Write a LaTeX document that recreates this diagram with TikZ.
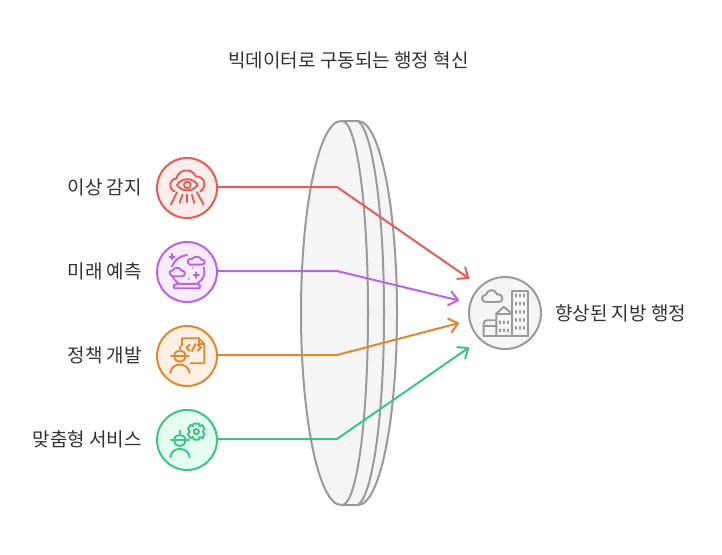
\documentclass[tikz,border=0pt]{standalone}
\usepackage{fontspec}
\setmainfont{Noto Sans CJK KR}
\usetikzlibrary{arrows.meta}
\definecolor{cred}{HTML}{E85B56}
\definecolor{cpur}{HTML}{BC62E8}
\definecolor{cora}{HTML}{E2872F}
\definecolor{cgrn}{HTML}{3CC583}
\definecolor{cgry}{HTML}{9A9A9A}
\definecolor{txt}{HTML}{333333}
\definecolor{fred}{HTML}{FFEDEB}
\definecolor{fpur}{HTML}{F7EDFF}
\definecolor{fora}{HTML}{FFF0E3}
\definecolor{fgrn}{HTML}{E5FCF1}
\definecolor{fgry}{HTML}{F5F5F5}
\tikzset{
  lbl/.style={font=\fontsize{19}{22}\selectfont,text=txt,inner sep=0pt},
  hub/.style={circle,draw=#1,line width=2pt,minimum size=60pt,inner sep=0pt},
  conn/.style={draw=#1,line width=2pt,-{Straight Barb[round,length=8.5pt,width=14pt,line width=2pt]}},
  lensline/.style={draw=cgry,line width=2pt,line join=round},
  ic/.style={line width=1.9pt,line cap=round,line join=round},
  zoomA/.style={x=0.3333pt,y=-0.3333pt}
}
\begin{document}
\begin{tikzpicture}[x=1pt,y=-1pt]
\useasboundingbox (0,0) rectangle (722,554);
\fill[white] (0,0) rectangle (722,554);
\node[lbl] (title) at (348.5,60) {빅데이터로 구동되는 행정 혁신};
% lens
\fill[lensline,fill=fgry]
  (358,121) .. controls (380,121) and (397,207) .. (397,313)
  .. controls (397,419) and (380,505) .. (358,505) -- (341,505)
  .. controls (319,505) and (301,419) .. (301,313)
  .. controls (301,207) and (319,121) .. (341,121) -- cycle;
\draw[lensline] (342,121) .. controls (357,121) and (368,207) .. (368,313) .. controls (368,419) and (357,505) .. (342,505);
\draw[lensline] (358,121) .. controls (372,130) and (384,207) .. (384,313) .. controls (384,419) and (372,496) .. (358,505);
% hubs
\node[hub=cred,fill=fred] (n1) at (187,188) {};
\node[hub=cpur,fill=fpur] (n2) at (187,272) {};
\node[hub=cora,fill=fora] (n3) at (187,356) {};
\node[hub=cgrn,fill=fgrn] (n4) at (187,440) {};
\node[circle,draw=cgry,line width=2pt,minimum size=72pt,inner sep=0pt,fill=fgry] (hubr) at (505,313) {};
% labels
\node[lbl,anchor=east] (l1) at (142,187) {이상 감지};
\node[lbl,anchor=east] (l2) at (142,271) {미래 예측};
\node[lbl,anchor=east] (l3) at (142,355) {정책 개발};
\node[lbl,anchor=east] (l4) at (142,439) {맞춤형 서비스};
\node[lbl,anchor=west] (r1) at (555,313) {향상된 지방 행정};
% connectors
\coordinate (w1) at (337,187);
\coordinate (w2) at (337,271);
\coordinate (w3) at (337,355);
\coordinate (w4) at (337,439);
\coordinate (e1) at (469,278.5);
\coordinate (e2) at (459,300.5);
\coordinate (e3) at (459,323);
\coordinate (e4) at (469,347.5);
\draw[conn=cred] (n1.east |- w1) -- (w1) -- (e1);
\draw[conn=cpur] (n2.east |- w2) -- (w2) -- (e2);
\draw[conn=cora] (n3.east |- w3) -- (w3) -- (e3);
\draw[conn=cgrn] (n4.east |- w4) -- (w4) -- (e4);
% icon 1: eye and cloud
\begin{scope}[zoomA,shift={(150.3pt,-150.6pt)},draw=cred,ic]
\draw (72,122) .. controls (52,112) and (58,85) .. (78,84) .. controls (85,55) and (125,50) .. (137,78) .. controls (165,75) and (170,112) .. (150,122);
\draw (80,103) .. controls (95,80) and (127,80) .. (142,103) .. controls (127,125) and (95,125) .. (80,103) -- cycle;
\draw (111,103) circle[radius=10];
\draw (80,125) -- (62,162);
\draw (97,132) -- (88,157);
\draw (110,132) -- (110,155);
\draw (125,132) -- (132,157);
\draw (140,125) -- (160,162);
\end{scope}
% icon 2: crystal ball
\begin{scope}[zoomA,shift={(150.3pt,-150.6pt)},draw=cpur,ic]
\draw (72,413) -- (148,413) .. controls (152,405) and (148,400) .. (142,400) -- (80,400) .. controls (72,400) and (68,405) .. (72,413) -- cycle;
\draw (84,398) .. controls (76,392) and (70,385) .. (67,378);
\draw (65,348) .. controls (72,328) and (90,316) .. (110,313);
\draw (160,350) .. controls (168,370) and (158,388) .. (142,398);
\draw (117,342) .. controls (106,332) and (116,322) .. (126,325) .. controls (133,315) and (152,318) .. (153,327) .. controls (167,327) and (167,342) .. (153,342) -- cycle;
\draw (68,377) .. controls (55,374) and (55,358) .. (68,359) .. controls (72,349) and (90,349) .. (93,360) .. controls (106,358) and (108,377) .. (95,377) -- cycle;
\draw (65,310) -- (65,326) (57,318) -- (73,318);
\draw (138,365) -- (138,382) (130,373) -- (146,373);
\fill[cpur] (115,385) circle[radius=3];
\fill[cpur] (128,352) circle[radius=2.5];
\end{scope}
% icon 3: engineer and document
\begin{scope}[zoomA,shift={(150.3pt,-320.6pt)},draw=cora,ic]
\draw (95,75) -- (95,53) -- (145,53) -- (162,70) -- (162,128) -- (120,128);
\draw (145,53) -- (145,70) -- (162,70);
\draw (118,72) -- (108,81) -- (118,90);
\draw (142,72) -- (152,81) -- (142,90);
\draw (135,70) -- (125,92);
\draw (72,105) .. controls (72,130) and (105,130) .. (105,105);
\draw (72,105) .. controls (72,85) and (105,85) .. (105,105);
\draw (62,105) -- (116,105);
\draw (88,85) -- (88,78);
\draw (60,157) .. controls (62,140) and (75,132) .. (88,132) .. controls (102,132) and (116,140) .. (118,157);
\end{scope}
% icon 4: engineer and gear
\begin{scope}[zoomA,shift={(150.3pt,-320.6pt)},draw=cgrn,ic]
\draw (72,358) .. controls (72,383) and (105,383) .. (105,358);
\draw (72,358) .. controls (72,338) and (105,338) .. (105,358);
\draw (62,358) -- (116,358);
\draw (88,338) -- (88,331);
\draw (60,410) .. controls (62,393) and (75,385) .. (88,385) .. controls (102,385) and (116,393) .. (118,410);
\draw (138,333) circle[radius=8];
\draw (130,309) -- (146,309) -- (148,317) -- (156,313) -- (163,326) -- (157,333) -- (163,341) -- (156,353) -- (148,349) -- (146,357) -- (130,357) -- (128,349) -- (120,353) -- (113,341) -- (119,333) -- (113,326) -- (120,313) -- (128,317) -- cycle;
\end{scope}
% icon 5: city
\begin{scope}[zoomA,shift={(450.3pt,-260.3pt)},draw=cgry,ic]
\draw (108,125) .. controls (92,125) and (90,105) .. (106,104) .. controls (112,85) and (135,85) .. (140,102) .. controls (160,100) and (162,125) .. (145,125) -- cycle;
\draw (185,228) -- (185,91) -- (234,91) -- (234,228) -- cycle;
\draw (138,228) -- (138,160) -- (160,140) -- (185,160);
\draw (138,162) -- (185,162);
\draw (100,228) -- (100,190) .. controls (100,183) and (105,180) .. (110,180) -- (138,180);
\draw (100,198) -- (138,198);
\draw (100,228) -- (234,228);
\foreach \x in {196,208,220} \foreach \y in {103,127,152,176,200} \draw (\x,\y) -- (\x,\y+6);
\foreach \x in {150,162,174} \foreach \y in {183,207} \draw (\x,\y) -- (\x,\y+6);
\end{scope}
\end{tikzpicture}
\end{document}
